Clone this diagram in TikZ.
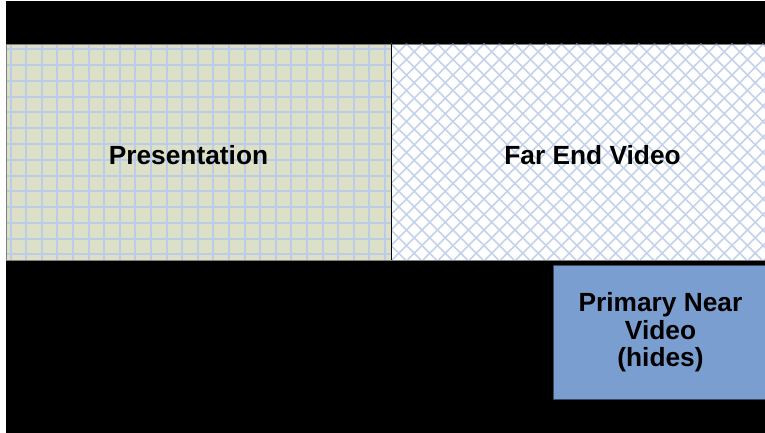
\documentclass[tikz,border=0pt]{standalone}
\usepackage{fontspec}
\setmainfont{Liberation Sans}
\definecolor{presfill}{HTML}{DCE0C6}
\definecolor{gridblue}{HTML}{BCCCE6}
\definecolor{diamblue}{HTML}{C4D2EC}
\definecolor{nearfill}{HTML}{7B9ED0}
\definecolor{nearedge}{HTML}{3A4A60}
\begin{document}
\begin{tikzpicture}[x=1pt,y=-1pt,
  lbl/.style={font=\fontsize{26.3}{27.5}\selectfont\bfseries, text=black, align=center},
  panel/.style={draw=gray, line width=0.8pt}]
\useasboundingbox (0,0) rectangle (765,433);
\fill[white] (0,0) rectangle (765,433);
\fill[black] (6,1) rectangle (765,433);
% Presentation panel
\fill[presfill] (6,44) rectangle (391,260);
\begin{scope}
  \clip (6,44) rectangle (391,260);
  \foreach \i in {0,...,25} { \draw[gridblue, line width=2pt] (10.5+15.6*\i,44) -- (10.5+15.6*\i,260); }
  \foreach \j in {0,...,13} { \draw[gridblue, line width=2pt] (6,49.5+15.75*\j) -- (391,49.5+15.75*\j); }
\end{scope}
\draw[panel] (6,44) rectangle (391,260);
% Far end panel
\fill[white] (391,44) rectangle (765,260);
\begin{scope}
  \clip (391,44) rectangle (765,260);
  \foreach \i in {-16,...,26} {
    \draw[diamblue, line width=1.6pt] (391+15.5*\i,44) -- ++(216,216);
    \draw[diamblue, line width=1.6pt] (391+15.5*\i,44) -- ++(-216,216);
  }
  \foreach \i in {27,...,42} {
    \draw[diamblue, line width=1.6pt] (391+15.5*\i,44) -- ++(-216,216);
  }
\end{scope}
\draw[panel] (391,44) rectangle (765,260);
\draw[black, line width=1pt] (391,44) -- (391,260);
% Primary near video
\node[draw=nearedge, fill=nearfill, line width=1pt, minimum width=214pt, minimum height=134pt, anchor=north west, inner sep=0pt] (near) at (553,265) {};
\node[lbl] (pres) at (188.5,155) {Presentation};
\node[lbl] (far) at (592.5,155) {Far End Video};
\node[lbl] (neartxt) at (near.center) {Primary Near\\Video\\(hides)};
\end{tikzpicture}
\end{document}
